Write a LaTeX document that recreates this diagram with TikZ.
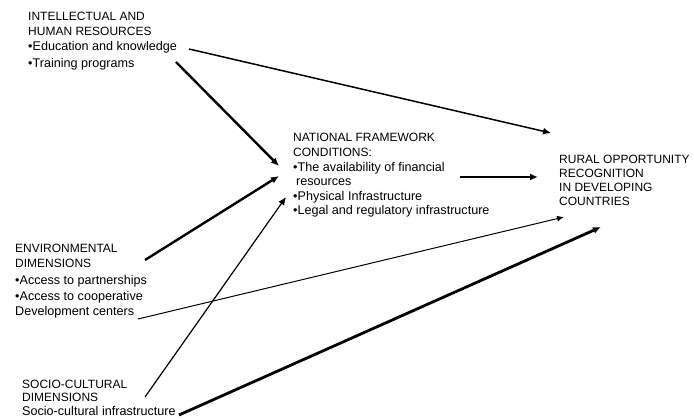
\documentclass[tikz,border=0pt]{standalone}
\usepackage{fontspec}
\setmainfont{Liberation Sans}
\usetikzlibrary{arrows.meta}
\begin{document}
\begin{tikzpicture}[x=1pt,y=-1pt,
  lbl/.style={anchor=base west,inner sep=0pt,font=\fontsize{12}{14}\selectfont},
  lbllow/.style={anchor=base west,inner sep=0pt,font=\fontsize{12.6}{14}\selectfont},
  thinarrow/.style={-{Latex[length=7pt,width=6pt]},line width=1pt},
  medarrow/.style={-{Latex[length=8pt,width=7pt]},line width=1.5pt},
  thickarrow/.style={-{Latex[length=8pt,width=7pt]},line width=2.4pt}]
\useasboundingbox (0,0) rectangle (694,420);
% Intellectual
\node[lbl] (i1) at (28,21) {INTELLECTUAL AND};
\node[lbl] (i2) at (28,36) {HUMAN RESOURCES};
\node[lbllow] (i3) at (28,51) {•Education and knowledge};
\node[lbllow] (i4) at (28,67) {•Training programs};
% National
\node[lbl] (n1) at (293,142) {NATIONAL FRAMEWORK};
\node[lbl] (n2) at (293,156) {CONDITIONS:};
\node[lbllow] (n3) at (293,171) {•The availability of financial};
\node[lbllow] (n4) at (296,185) {resources};
\node[lbllow] (n5) at (293,200) {•Physical Infrastructure};
\node[lbllow] (n6) at (293,214) {•Legal and regulatory infrastructure};
% Rural
\node[lbl] (r1) at (559,163) {RURAL OPPORTUNITY};
\node[lbl] (r2) at (559,177) {RECOGNITION};
\node[lbl] (r3) at (559,191) {IN DEVELOPING};
\node[lbl] (r4) at (559,205) {COUNTRIES};
% Environmental
\node[lbl] (e1) at (15,252) {ENVIRONMENTAL};
\node[lbl] (e2) at (15,267) {DIMENSIONS};
\node[lbllow] (e3) at (15,284) {•Access to partnerships};
\node[lbllow] (e4) at (15,300) {•Access to cooperative};
\node[lbllow] (e5) at (15,315) {Development centers};
% Socio-cultural
\node[lbl] (s1) at (22,388) {SOCIO-CULTURAL};
\node[lbl] (s2) at (22,401) {DIMENSIONS};
\node[lbllow] (s3) at (22,415) {Socio-cultural infrastructure};
% connector end points
\coordinate (a1s) at (189,49);  \coordinate (a1e) at (551,133);
\coordinate (a2s) at (176,62);  \coordinate (a2e) at (279,166);
\coordinate (a3s) at (145,260); \coordinate (a3e) at (279,176);
\coordinate (a4s) at (138,319); \coordinate (a4e) at (564,217);
\coordinate (a5s) at (145,397); \coordinate (a5e) at (286,197);
\coordinate (a6s) at (179,415); \coordinate (a6e) at (601,227);
\coordinate (a7s) at (460,177); \coordinate (a7e) at (538,177);
\draw[medarrow] (a1s) -- (a1e);
\draw[thickarrow] (a2s) -- (a2e);
\draw[thickarrow] (a3s) -- (a3e);
\draw[thinarrow] (a4s) -- (a4e);
\draw[medarrow,line width=1.2pt] (a5s) -- (a5e);
\draw[thickarrow,line width=2.8pt] (a6s) -- (a6e);
\draw[thickarrow] (a7s) -- (a7e);
\end{tikzpicture}
\end{document}
